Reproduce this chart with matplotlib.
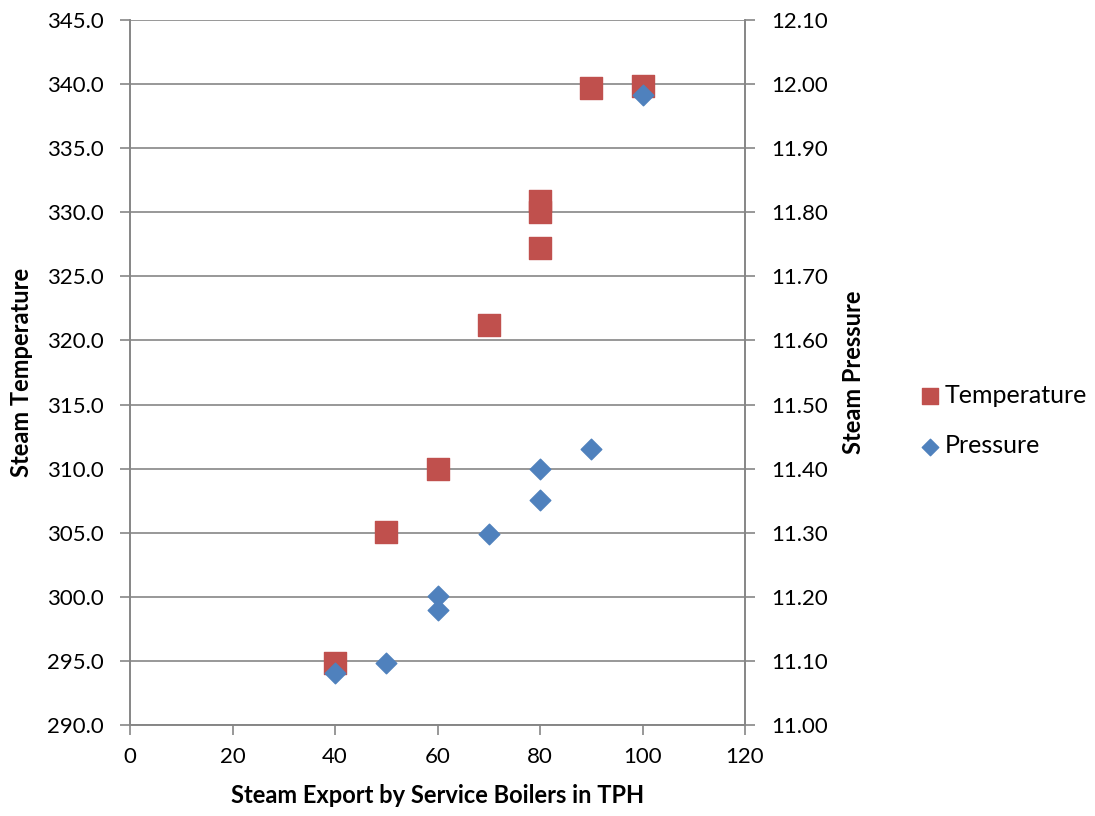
import matplotlib.pyplot as plt

plt.rcParams['font.family'] = ['Lato', 'DejaVu Sans']

# data
temp_x = [40, 50, 60, 70, 80, 80, 80, 90, 100]
temp_y = [294.8, 305.05, 309.95, 321.2, 327.2, 330.0, 330.9, 339.7, 339.85]
pres_x = [40, 50, 60, 60, 70, 80, 80, 90, 100]
pres_y = [11.081, 11.097, 11.179, 11.201, 11.298, 11.351, 11.40, 11.430, 11.983]

left_ticks = [290 + 5 * i for i in range(12)]
right_ticks = [11.0 + 0.1 * i for i in range(12)]
x_ticks = [0, 20, 40, 60, 80, 100, 120]

grey = "#868686"
red = "#C0504D"
blue = "#4F81BD"

fig = plt.figure(figsize=(10.95, 8.16), dpi=100)
ax = fig.add_axes([130 / 1095, 1 - 725 / 816, 615 / 1095, 705 / 816])
ax2 = ax.twinx()

ax.set_xlim(0, 120)
ax.set_ylim(290, 345)
ax2.set_ylim(11.0, 12.1)
ax.set_xticks(x_ticks)
ax.set_yticks(left_ticks)
ax.set_yticklabels([f"{v:.1f}" for v in left_ticks])
ax2.set_yticks(right_ticks)
ax2.set_yticklabels([f"{v:.2f}" for v in right_ticks])

ax.grid(axis="y", color=grey, linewidth=1.2)
ax.set_axisbelow(True)

for a in (ax, ax2):
    a.spines["top"].set_visible(False)
    for s in ("left", "right", "bottom"):
        a.spines[s].set_color(grey)
        a.spines[s].set_linewidth(1.2)
    a.tick_params(labelsize=16, color=grey, length=7, width=1.2, pad=12)

ax.tick_params(axis="x", pad=9)

t = ax.scatter(temp_x, temp_y, marker="s", s=230, color=red, zorder=3,
               label="Temperature")
p = ax2.scatter(pres_x, pres_y, marker="D", s=110, color=blue, zorder=4,
                label="Pressure")

ax.set_xlabel("Steam Export by Service Boilers in TPH", fontsize=17,
              fontweight="bold", labelpad=12)
ax.set_ylabel("Steam Temperature", fontsize=17, fontweight="bold", labelpad=10)
ax2.set_ylabel("Steam Pressure", fontsize=17, fontweight="bold", labelpad=10)

fig.legend(handles=[t, p], loc="upper left",
           bbox_to_anchor=(905 / 1095, 1 - 374 / 816), frameon=False,
           fontsize=18, handletextpad=0.0, labelspacing=1.1,
           markerscale=0.8, borderaxespad=0, handlelength=1.2)

fig.savefig("out.png", dpi=100)
